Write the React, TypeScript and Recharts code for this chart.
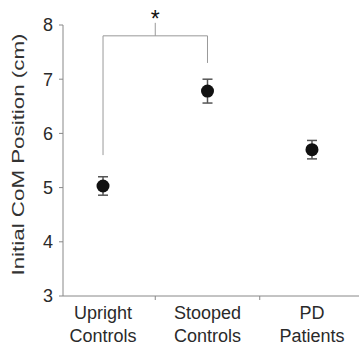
import { ScatterChart, Scatter, XAxis, YAxis, ErrorBar, ReferenceLine, ReferenceDot, Label } from 'recharts';

const GROUP_TOP = ['Upright', 'Stooped', 'PD'];
const GROUP_BOTTOM = ['Controls', 'Controls', 'Patients'];
const MEANS = [5.03, 6.78, 5.7];
const SEMS = [0.17, 0.22, 0.17];
const Y_TICKS = [3, 4, 5, 6, 7, 8];
const X_TICKS = [1, 1.5, 2, 2.5, 3];

// significance bracket between Upright and Stooped controls
const BRACKET_LEFT = [5.6, 7.8];
const BRACKET_RIGHT = [7.3, 7.8];
const BRACKET_MID = [7.8, 8.04];
const STAR_Y = 8.2;

const AXIS = '#888';
const TEXT = '#2a2a2a';
const FONT = '"Liberation Sans", Arial, sans-serif';

const data = MEANS.map((m, i) => ({ x: i + 1, y: m, err: SEMS[i] }));

function GroupTick(props: any) {
  const { x, y, payload } = props;
  const v = payload.value;
  if (!Number.isInteger(v)) {
    return <line x1={x} x2={x} y1={y} y2={y + 4} stroke={AXIS} />;
  }
  const i = v - 1;
  return (
    <text x={x} textAnchor="middle" fontSize={18} fill={TEXT} fontFamily={FONT}>
      <tspan x={x} y={y + 23}>{GROUP_TOP[i]}</tspan>
      <tspan x={x} y={y + 46}>{GROUP_BOTTOM[i]}</tspan>
    </text>
  );
}

function YTitle(props: any) {
  const vb = props.viewBox || { x: 0, y: 25, width: 63, height: 271 };
  const bx = vb.x + 24;
  const cy = vb.y + vb.height / 2 - 6;
  return (
    <text
      x={bx}
      y={cy}
      transform={`rotate(-90 ${bx} ${cy})`}
      textAnchor="middle"
      fontSize={17}
      fill="#333"
      fontFamily={FONT}
      textLength={242}
      lengthAdjust="spacingAndGlyphs"
    >
      Initial CoM Position (cm)
    </text>
  );
}

export default function App() {
  return (
    <div style={{ position: 'absolute', left: 0, top: 0, background: '#fff' }}>
      <ScatterChart width={359} height={345} margin={{ top: 25, right: 0, bottom: 0, left: 0 }}>
        <XAxis
          type="number"
          dataKey="x"
          domain={[0.617, 3.45]}
          ticks={X_TICKS}
          interval={0}
          allowDataOverflow
          tick={<GroupTick />}
          tickLine={false}
          tickSize={0}
          tickMargin={0}
          axisLine={{ stroke: AXIS }}
          height={49}
        />
        <YAxis
          type="number"
          dataKey="y"
          domain={[3, 8]}
          ticks={Y_TICKS}
          interval={0}
          width={63}
          tickSize={4}
          tickMargin={6}
          tickLine={{ stroke: AXIS }}
          axisLine={{ stroke: AXIS }}
          tick={{ fill: TEXT, fontSize: 18, fontFamily: FONT }}
        >
          <Label content={<YTitle />} />
        </YAxis>
        <ReferenceLine
          segment={[{ x: 1, y: BRACKET_LEFT[0] }, { x: 1, y: BRACKET_LEFT[1] }]}
          stroke="#999"
          ifOverflow="visible"
        />
        <ReferenceLine
          segment={[{ x: 1, y: BRACKET_LEFT[1] }, { x: 2, y: BRACKET_RIGHT[1] }]}
          stroke="#999"
          ifOverflow="visible"
        />
        <ReferenceLine
          segment={[{ x: 2, y: BRACKET_RIGHT[0] }, { x: 2, y: BRACKET_RIGHT[1] }]}
          stroke="#999"
          ifOverflow="visible"
        />
        <ReferenceLine
          segment={[{ x: 1.5, y: BRACKET_MID[0] }, { x: 1.5, y: BRACKET_MID[1] }]}
          stroke="#999"
          ifOverflow="visible"
        />
        <ReferenceDot
          x={1.5}
          y={STAR_Y}
          ifOverflow="visible"
          shape={(p: any) => (
            <text x={p.cx} y={p.cy + 13} textAnchor="middle" fontSize={23} fill="#111" fontFamily={FONT}>
              *
            </text>
          )}
        />
        <Scatter
          data={data}
          isAnimationActive={false}
          shape={(p: any) => <circle cx={p.cx} cy={p.cy} r={6.5} fill="#111" />}
        >
          <ErrorBar dataKey="err" direction="y" width={5} stroke="#555" strokeWidth={1.5} />
        </Scatter>
      </ScatterChart>
    </div>
  );
}
